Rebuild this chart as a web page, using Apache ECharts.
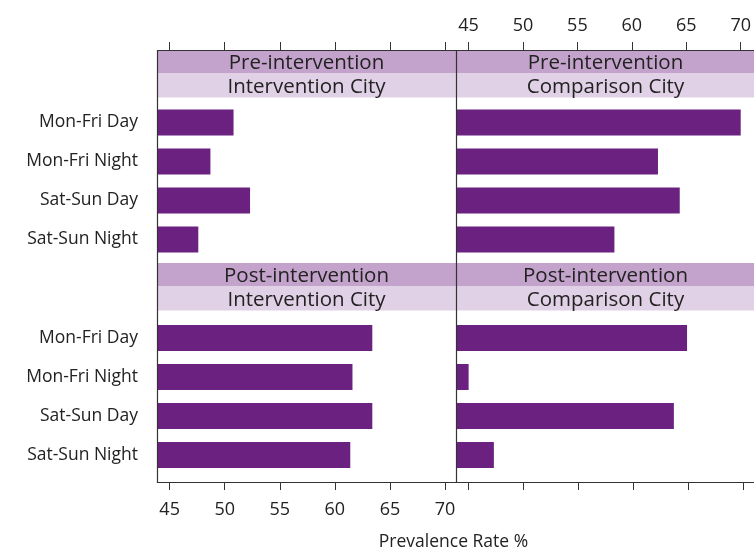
<!DOCTYPE html>
<html>
<head>
<meta charset="utf-8">
<script src="https://cdn.jsdelivr.net/npm/echarts@6/dist/echarts.min.js"></script>
<style>
  html, body { margin: 0; padding: 0; background: #fff; }
  #chart { width: 754px; height: 548px; }
</style>
</head>
<body>
<div id="chart"></div>
<script>
// Time-of-week categories (top to bottom in every panel)
const categories = ['Mon-Fri Day', 'Mon-Fri Night', 'Sat-Sun Day', 'Sat-Sun Night'];

// Prevalence rate (%) per panel
const preInterventionCity = [50.8, 48.7, 52.3, 47.6];
const preComparisonCity = [70.0, 62.4, 64.4, 58.4];
const postInterventionCity = [63.4, 61.6, 63.4, 61.4];
const postComparisonCity = [64.9, 45.0, 63.7, 47.3];

// Strip labels
const periodLabels = ['Pre-intervention', 'Post-intervention'];
const cityLabels = ['Intervention City', 'Comparison City'];

// Axis ticks
const tickValues = [45, 50, 55, 60, 65, 70];
const xTitle = 'Prevalence Rate %';

// ---- layout ----
const FONT = '"Open Sans", "Noto Sans", sans-serif';
const TEXT = '#222';
const LINE = '#333';
const BAR = '#6A2180';
const STRIP_DARK = '#C3A3CB';
const STRIP_LIGHT = '#E1D1E6';
const X_MIN = 43.85, X_MAX = 71.0;

const colLeft = [157, 456];
const panelW = 299;
const rowTop = [50, 263];          // top of each panel row (strip start)
const rowBottom = [263, 482];      // bottom of each panel row
const strip1H = 23.5, strip2H = 24;
const barGridTop = [103, 318.5];
const barGridH = 156;

const panels = [
  { row: 0, col: 0, data: preInterventionCity },
  { row: 0, col: 1, data: preComparisonCity },
  { row: 1, col: 0, data: postInterventionCity },
  { row: 1, col: 1, data: postComparisonCity }
];

const grids = [], xAxes = [], yAxes = [], series = [];
panels.forEach((p, i) => {
  grids.push({ left: colLeft[p.col], top: barGridTop[p.row], width: panelW, height: barGridH });
  const isTop = p.row === 0;
  // top row: labels on right panel; bottom row: labels on left panel
  const showLabels = isTop ? p.col === 1 : p.col === 0;
  const offset = isTop ? barGridTop[0] - rowTop[0] : rowBottom[1] - (barGridTop[1] + barGridH);
  xAxes.push({
    gridIndex: i, type: 'value', min: X_MIN, max: X_MAX,
    position: isTop ? 'top' : 'bottom', offset: offset,
    axisLine: { show: false },
    splitLine: { show: false },
    axisTick: { show: true, inside: false, length: 8, customValues: tickValues,
                lineStyle: { color: LINE, width: 1 } },
    axisLabel: { show: showLabels, customValues: tickValues, margin: isTop ? 15 : 19,
                 fontSize: 18, color: TEXT, fontFamily: FONT }
  });
  yAxes.push({
    gridIndex: i, type: 'category', data: categories, inverse: true,
    axisLine: { show: false }, axisTick: { show: false }, splitLine: { show: false },
    axisLabel: { show: p.col === 0, margin: 19, fontSize: 17.5, color: TEXT, fontFamily: FONT }
  });
  series.push({
    type: 'bar', xAxisIndex: i, yAxisIndex: i, data: p.data,
    barWidth: 26, clip: true, itemStyle: { color: BAR }, silent: true
  });
});

// Strips, frame and axis title
const graphics = [];
for (let r = 0; r < 2; r++) {
  for (let c = 0; c < 2; c++) {
    const x = colLeft[c], y = rowTop[r];
    graphics.push({ type: 'rect', shape: { x: x, y: y, width: panelW, height: strip1H },
                    style: { fill: STRIP_DARK }, z: 1 });
    graphics.push({ type: 'rect', shape: { x: x, y: y + strip1H, width: panelW, height: strip2H },
                    style: { fill: STRIP_LIGHT }, z: 1 });
    graphics.push({ type: 'text', x: x + panelW / 2, y: y + strip1H / 2 + 1.5, z: 2,
                    style: { text: periodLabels[r], fill: TEXT, font: '20.5px ' + FONT,
                             textAlign: 'center', textVerticalAlign: 'middle' } });
    graphics.push({ type: 'text', x: x + panelW / 2, y: y + strip1H + strip2H / 2 + 1.5, z: 2,
                    style: { text: cityLabels[c], fill: TEXT, font: '20.5px ' + FONT,
                             textAlign: 'center', textVerticalAlign: 'middle' } });
  }
}
graphics.push({ type: 'rect', z: 3,
  shape: { x: colLeft[0] + 0.5, y: rowTop[0] + 0.5, width: panelW * 2, height: rowBottom[1] - rowTop[0] },
  style: { fill: 'none', stroke: LINE, lineWidth: 1.2 } });
graphics.push({ type: 'line', z: 3,
  shape: { x1: colLeft[1] + 0.5, y1: rowTop[0], x2: colLeft[1] + 0.5, y2: rowBottom[1] },
  style: { stroke: LINE, lineWidth: 1.2 } });
graphics.push({ type: 'text', x: 453.5, y: 542.5, z: 2,
  style: { text: xTitle, fill: TEXT, font: '17.5px ' + FONT,
           textAlign: 'center', textVerticalAlign: 'middle' } });

const chart = echarts.init(document.getElementById('chart'), null, { renderer: 'canvas' });
chart.setOption({
  animation: false,
  backgroundColor: '#fff',
  grid: grids,
  xAxis: xAxes,
  yAxis: yAxes,
  series: series,
  graphic: graphics
});
</script>
</body>
</html>
